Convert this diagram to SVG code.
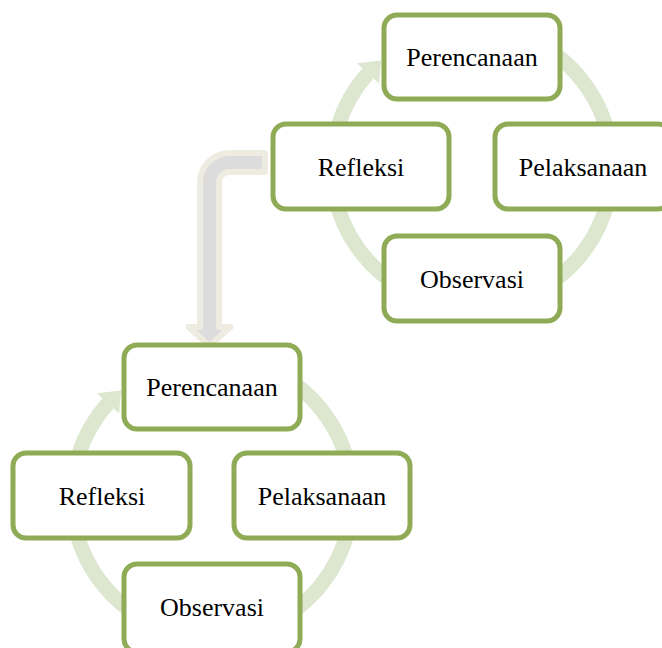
<svg xmlns="http://www.w3.org/2000/svg" width="662" height="648" viewBox="0 0 662 648">
<style>
.ring{fill:none;stroke:#dde7d0;stroke-width:15}
.head{fill:#dde7d0}
.box{fill:#ffffff;stroke:#8fab55;stroke-width:5}
.lbl{font-family:"Liberation Serif","Times New Roman",serif;font-size:26px;fill:#000000;text-anchor:middle}
.bend{fill:#dcdcdc;stroke:#eeece1;stroke-width:6;stroke-linejoin:round}
</style>
<rect width="662" height="648" fill="#ffffff"/>
<g id="connectors">
  <path class="ring" d="M 472 27 A 140 140 0 1 1 368.0 73.3"/>
  <polygon class="head" points="356.8,63.3 379.1,83.4 381.1,60.5"/>
  <path class="ring" d="M 212 357 A 140 140 0 1 1 108.0 403.3"/>
  <polygon class="head" points="96.8,393.3 119.1,413.4 121.1,390.5"/>
  <path class="bend" d="M 265 153 L 229.5 153 A 29.5 29.5 0 0 0 200 182.5 L 200 327 L 188.5 327 L 209.5 346 L 230.5 327 L 219 327 L 219 182.5 A 10.5 10.5 0 0 1 229.5 172 L 265 172 Z"/>
</g>
<g id="top-perencanaan">
  <rect class="box" x="384" y="15" width="176" height="84" rx="13"/>
  <text class="lbl" x="472" y="66">Perencanaan</text>
</g>
<g id="top-pelaksanaan">
  <rect class="box" x="495" y="124" width="176" height="85" rx="13"/>
  <text class="lbl" x="583" y="176">Pelaksanaan</text>
</g>
<g id="top-observasi">
  <rect class="box" x="384" y="236" width="176" height="85" rx="13"/>
  <text class="lbl" x="472" y="288">Observasi</text>
</g>
<g id="top-refleksi">
  <rect class="box" x="273" y="124" width="176" height="85" rx="13"/>
  <text class="lbl" x="361" y="176">Refleksi</text>
</g>
<g id="bottom-perencanaan">
  <rect class="box" x="124" y="345" width="176" height="84" rx="13"/>
  <text class="lbl" x="212" y="396">Perencanaan</text>
</g>
<g id="bottom-pelaksanaan">
  <rect class="box" x="234" y="453" width="176" height="85" rx="13"/>
  <text class="lbl" x="322" y="505">Pelaksanaan</text>
</g>
<g id="bottom-observasi">
  <rect class="box" x="124" y="564" width="176" height="88" rx="13"/>
  <text class="lbl" x="212" y="616">Observasi</text>
</g>
<g id="bottom-refleksi">
  <rect class="box" x="13" y="453" width="177" height="85" rx="13"/>
  <text class="lbl" x="102" y="505">Refleksi</text>
</g>
</svg>
